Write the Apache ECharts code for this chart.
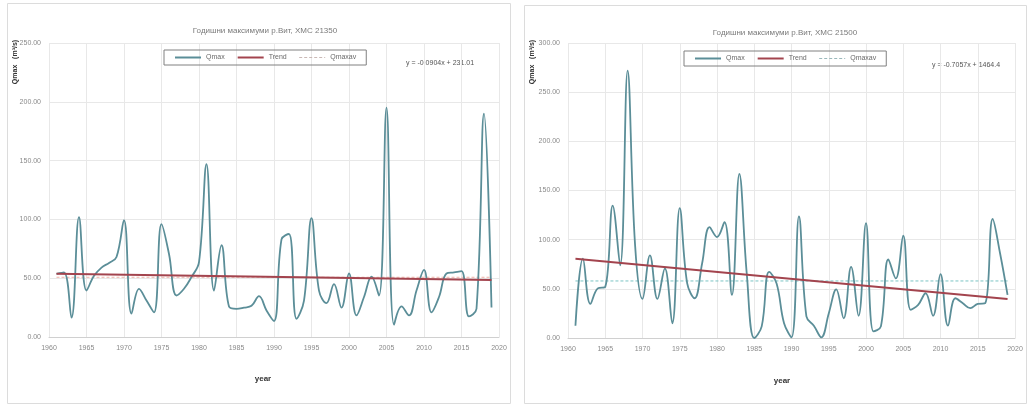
<!DOCTYPE html>
<html>
<head>
<meta charset="utf-8">
<script src="https://cdn.jsdelivr.net/npm/echarts@6/dist/echarts.min.js"></script>
<style>
html,body{margin:0;padding:0;background:#ffffff;}
#c{width:1029px;height:405px;}
</style>
</head>
<body>
<div id="c"></div>
<script>
const years = [1961,1962,1963,1964,1965,1966,1967,1968,1969,1970,
  1971,1972,1973,1974,1975,1976,1977,1978,1979,1980,
  1981,1982,1983,1984,1985,1986,1987,1988,1989,1990,
  1991,1992,1993,1994,1995,1996,1997,1998,1999,2000,
  2001,2002,2003,2004,2005,2006,2007,2008,2009,2010,
  2011,2012,2013,2014,2015,2016,2017,2018,2019];

const qmax21350 = [53.7,55,16.4,102,39.5,52,59,63,68,99.4,
  19.8,41,31,21,96,70.6,35.3,41,51,63.6,
  147,39.5,78,26,24,25,26.5,34.7,22.6,13.6,
  83,87.6,15.5,31,101,39.5,28.8,45,25,54,
  18.4,34,51.4,35.3,195,10.5,26,18.4,39.5,57,
  21,34,54,55,56,17.5,24,190,25];

const qmax21500 = [12.5,80.8,34.7,50.5,52,134.7,74,272,95,39.7,
  84,39.7,70.7,15,132,55.5,40.4,75.8,112.8,102.7,
  117.8,43.8,167,65,0,11.8,67.3,55.5,15,0.7,
  123.6,21.9,12.5,0.7,25,49.5,20,72.4,22.6,116.8,
  6.7,11.8,80,60.6,104,28.6,33.7,45.5,22.6,65,
  12.5,40.4,35.4,30.3,34.7,35.4,121,85.9,43.8];

// trend line end values (first year, last year) and average level
const trend21350 = [53.7, 48.5];
const trend21500 = [80.5, 39.6];
const avg21350 = 50.8;
const avg21500 = 58;

const xTicks = [1960,1965,1970,1975,1980,1985,1990,1995,2000,2005,2010,2015,2020];
const yTicks21350 = [0,50,100,150,200,250];
const yTicks21500 = [0,50,100,150,200,250,300];

const titles = ['Годишни максимуми р.Вит, ХМС 21350','Годишни максимуми р.Вит, ХМС 21500'];
const equations = ['y = -0.0904x + 231.01','y = -0.7057x + 1464.4'];
const legendNames = ['Qmax','Trend','Qmaxav'];

const first = years[0], last = years[years.length-1];
const pairs = (vals) => years.map((y,i)=>[y,vals[i]]);

const QCOL = '#5b8e98', TCOL = '#a3444e';
const AVG_L = '#eeb0a6', AVG_R = '#7cc4c4';
const lblColor = '#8a8a8a';
const FONT = 'Liberation Sans, Arial, sans-serif';

function xAxis(gi){
  return {type:'value', gridIndex:gi, min:xTicks[0], max:xTicks[xTicks.length-1], interval:5,
    axisLine:{show:true,lineStyle:{color:'#d0d0d0'}}, axisTick:{show:false},
    axisLabel:{color:lblColor,fontSize:7,fontFamily:FONT,margin:8,formatter:v=>String(v)},
    splitLine:{show:true,lineStyle:{color:'#e8e8e8',width:1}}};
}
function yAxis(gi,ticks){
  return {type:'value', gridIndex:gi, min:ticks[0], max:ticks[ticks.length-1], interval:50,
    axisLine:{show:false}, axisTick:{show:false},
    axisLabel:{color:lblColor,fontSize:7,fontFamily:FONT,margin:8,formatter:v=>v.toFixed(2)},
    splitLine:{show:true,lineStyle:{color:'#e8e8e8',width:1}}};
}
function seriesFor(gi,vals,trend,avg,avgColor){
  return [
    {name:'Qmax',type:'line',xAxisIndex:gi,yAxisIndex:gi,data:pairs(vals),smooth:0.4,symbol:'none',
      lineStyle:{color:QCOL,width:1.8},itemStyle:{color:QCOL},z:3},
    {name:'Trend',type:'line',xAxisIndex:gi,yAxisIndex:gi,data:[[first,trend[0]],[last,trend[1]]],symbol:'none',
      lineStyle:{color:TCOL,width:2},itemStyle:{color:TCOL},z:4},
    {name:'Qmaxav',type:'line',xAxisIndex:gi,yAxisIndex:gi,data:[[first,avg],[last,avg]],symbol:'none',
      lineStyle:{color:avgColor,width:1,type:[3,2]},itemStyle:{color:avgColor},z:2}
  ];
}
function legendAt(left,top,avgIconColor){
  return {data:[{name:legendNames[0]},{name:legendNames[1]},{name:legendNames[2],lineStyle:{color:avgIconColor,type:[3,2],width:1}}],
    left:left,top:top,borderColor:'#808080',borderWidth:1,padding:[4,10],itemGap:12,
    itemWidth:26,itemHeight:8,itemStyle:{opacity:0},
    textStyle:{fontSize:7,color:'#6a6a6a',fontFamily:FONT}};
}

const chart = echarts.init(document.getElementById('c'));
chart.setOption({
  animation:false,
  backgroundColor:'#ffffff',
  textStyle:{fontFamily:FONT},
  title:[
    {text:titles[0],left:260,top:22,textAlign:'center',textStyle:{fontSize:8,fontWeight:'normal',color:'#7a7a7a',fontFamily:FONT}},
    {text:titles[1],left:780,top:24,textAlign:'center',textStyle:{fontSize:8,fontWeight:'normal',color:'#7a7a7a',fontFamily:FONT}}
  ],
  legend:[legendAt(164,50,'#c9b8b5'),legendAt(684,51,'#9ab8bb')],
  grid:[
    {left:49,right:530,top:43,bottom:68},
    {left:568,right:14,top:43,bottom:67}
  ],
  xAxis:[xAxis(0),xAxis(1)],
  yAxis:[yAxis(0,yTicks21350),yAxis(1,yTicks21500)],
  series:[].concat(
    seriesFor(0,qmax21350,trend21350,avg21350,AVG_L),
    seriesFor(1,qmax21500,trend21500,avg21500,AVG_R)
  ),
  graphic:[
    {type:'rect',shape:{x:7.5,y:3.5,width:503,height:400},style:{fill:'none',stroke:'#dcdcdc',lineWidth:1},silent:true},
    {type:'rect',shape:{x:524.5,y:5.5,width:502,height:398},style:{fill:'none',stroke:'#dcdcdc',lineWidth:1},silent:true},
    {type:'text',x:15,y:62,rotation:Math.PI/2,style:{text:'Qmax   (m³/s)',fontSize:7,fontWeight:'bold',fill:'#333',align:'center',verticalAlign:'middle',fontFamily:FONT}},
    {type:'text',x:532,y:62,rotation:Math.PI/2,style:{text:'Qmax   (m³/s)',fontSize:7,fontWeight:'bold',fill:'#333',align:'center',verticalAlign:'middle',fontFamily:FONT}},
    {type:'text',x:440,y:63,style:{text:equations[0],fontSize:7,fill:'#555',align:'center',verticalAlign:'middle',fontFamily:FONT}},
    {type:'text',x:966,y:65,style:{text:equations[1],fontSize:7,fill:'#555',align:'center',verticalAlign:'middle',fontFamily:FONT}},
    {type:'text',x:263,y:379,style:{text:'year',fontSize:8,fontWeight:'bold',fill:'#333',align:'center',verticalAlign:'middle',fontFamily:FONT}},
    {type:'text',x:782,y:381,style:{text:'year',fontSize:8,fontWeight:'bold',fill:'#333',align:'center',verticalAlign:'middle',fontFamily:FONT}}
  ]
});
</script>
</body>
</html>
